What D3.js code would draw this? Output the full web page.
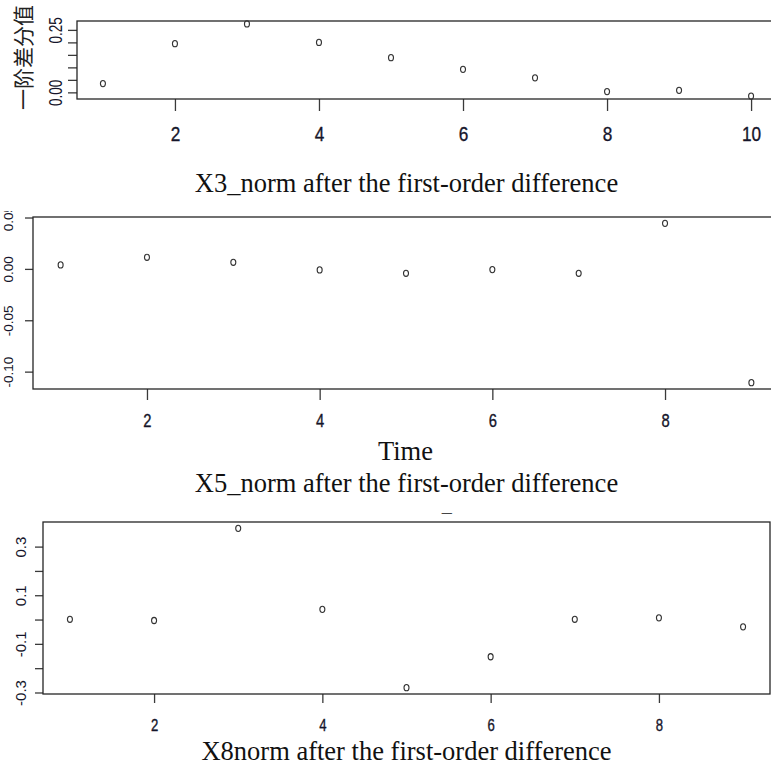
<!DOCTYPE html>
<html>
<head>
<meta charset="utf-8">
<script src="https://cdn.jsdelivr.net/npm/d3@7"></script>
<style>
  html, body { margin: 0; padding: 0; background: #fff; overflow: hidden; }
  svg { display: block; }
</style>
</head>
<body>
<script>
var width = 771, height = 766;

/** data **/
var timeA = [1, 2, 3, 4, 5, 6, 7, 8, 9, 10];
var diffA = [0.035, 0.195, 0.274, 0.200, 0.139, 0.092, 0.058, 0.003, 0.008, -0.015];

var timeB = [1, 2, 3, 4, 5, 6, 7, 8, 9];
var diffB = [0.0039, 0.0113, 0.0064, -0.0010, -0.0043, -0.0007, -0.0043, 0.0443, -0.1107];

var timeC = [1, 2, 3, 4, 5, 6, 7, 8, 9];
var diffC = [0.001, -0.004, 0.375, 0.042, -0.280, -0.153, 0.001, 0.007, -0.030];

var xTicksA = [2, 4, 6, 8, 10];
var xTicksB = [2, 4, 6, 8];
var xTicksC = [2, 4, 6, 8];

var yTicksA = [0, 0.05, 0.10, 0.15, 0.20, 0.25];
var yLabelsA = ["0.00", "", "", "", "", "0.25"];
var yTicksB = [-0.10, -0.05, 0, 0.05];
var yLabelsB = ["-0.10", "-0.05", "0.00", "0.05"];
var yTicksC = [-0.3, -0.2, -0.1, 0, 0.1, 0.2, 0.3];
var yLabelsC = ["-0.3", "", "-0.1", "", "0.1", "", "0.3"];

var captions = [
    "X3_norm after the first-order difference",
    "Time",
    "X5_norm after the first-order difference",
    "X8norm after the first-order difference"
];
var yTitleA = "一阶差分值";

var svg = d3.select("body").append("svg")
    .attr("width", width).attr("height", height);

var ink = "#262626";
var labelInk = "#15152a";

// R style limits: data range padded by 4% each side
function rLimits(v) {
    var e = d3.extent(v), pad = (e[1] - e[0]) * 0.04;
    return [e[0] - pad, e[1] + pad];
}

function panel(p) {
    var g = svg.append("g");
    if (p.clipTop != null) {
        var id = "clip" + p.name;
        svg.append("clipPath").attr("id", id)
            .append("rect").attr("x", 0).attr("y", p.clipTop)
            .attr("width", width).attr("height", height - p.clipTop);
        g.attr("clip-path", "url(#" + id + ")");
    }

    var x = d3.scaleLinear().domain(rLimits(p.t)).range([p.left, p.right]);
    var y = d3.scaleLinear().domain(rLimits(p.v)).range([p.bottom, p.top]);

    // x axis
    var xa = g.append("g")
        .attr("transform", "translate(0," + p.bottom + ")")
        .call(d3.axisBottom(x).tickValues(p.xTicks).tickSize(p.tickX).tickFormat(d3.format("d")));
    xa.select(".domain").remove();
    xa.selectAll("line").attr("stroke", "#3a3a3a").attr("stroke-width", 1.3);
    xa.selectAll("text")
        .attr("y", p.xBase - p.bottom).attr("dy", 0)
        .attr("transform", "scale(0.82,1)")
        .attr("fill", labelInk)
        .attr("stroke", labelInk).attr("stroke-width", 0.35)
        .style("font-family", "'Liberation Sans', Arial, sans-serif")
        .style("font-size", p.xFont + "px");

    // y axis, labels parallel to the axis
    var ya = g.append("g")
        .attr("transform", "translate(" + p.left + ",0)")
        .call(d3.axisLeft(y).tickValues(p.yTicks).tickSize(p.tickY)
            .tickFormat((d, i) => p.yLabels[i]));
    ya.select(".domain").remove();
    ya.selectAll("line").attr("stroke", "#3a3a3a").attr("stroke-width", 1.3);
    ya.selectAll("text")
        .attr("x", 0).attr("y", 0).attr("dy", "0.36em")
        .attr("text-anchor", "middle")
        .attr("transform", "translate(" + (p.yLabelX - p.left) + ",0) rotate(-90) scale(1," + p.yStretch + ")")
        .attr("fill", labelInk)
        .style("font-family", "'Liberation Sans', Arial, sans-serif")
        .style("font-size", p.yFont + "px");

    // box
    g.append("rect")
        .attr("x", p.left).attr("y", p.top)
        .attr("width", p.right - p.left).attr("height", p.bottom - p.top)
        .attr("fill", "none").attr("stroke", ink).attr("stroke-width", 1.3);

    // points
    g.append("g").selectAll("ellipse")
        .data(p.v)
        .enter().append("ellipse")
        .attr("cx", (d, i) => x(p.t[i]))
        .attr("cy", d => y(d))
        .attr("rx", 2.5).attr("ry", 3.1)
        .attr("fill", "none").attr("stroke", "#333").attr("stroke-width", 1.1);
    return g;
}

panel({ name: "A", t: timeA, v: diffA, left: 77, right: 777, top: 21, bottom: 99,
    xTicks: xTicksA, yTicks: yTicksA, yLabels: yLabelsA, tickX: 12, tickY: 9,
    xBase: 141.5, xFont: 21, yLabelX: 55, yFont: 13.5, yStretch: 1.4 });

panel({ name: "B", t: timeB, v: diffB, left: 33, right: 779, top: 217, bottom: 389,
    xTicks: xTicksB, yTicks: yTicksB, yLabels: yLabelsB, tickX: 11, tickY: 8,
    xBase: 426.7, xFont: 18, yLabelX: 8.3, yFont: 13.5, yStretch: 1, clipTop: 211 });

panel({ name: "C", t: timeC, v: diffC, left: 43, right: 770, top: 522, bottom: 694,
    xTicks: xTicksC, yTicks: yTicksC, yLabels: yLabelsC, tickX: 9, tickY: 8,
    xBase: 730.7, xFont: 16, yLabelX: 20.8, yFont: 15, yStretch: 1 });

// Chinese y title of the first panel
svg.append("text")
    .attr("transform", "translate(23,57.5) rotate(-90)")
    .attr("text-anchor", "middle").attr("dy", "0.36em")
    .attr("fill", "#222")
    .style("font-family", "'Noto Sans CJK SC', sans-serif")
    .style("font-size", "21px")
    .text(yTitleA);

// serif captions between panels
var capPos = [[406.5, 191.5], [405.5, 460], [406.5, 491.5], [406.5, 760]];
svg.append("g").selectAll("text")
    .data(captions)
    .enter().append("text")
    .attr("x", (d, i) => capPos[i][0])
    .attr("y", (d, i) => capPos[i][1])
    .attr("text-anchor", "middle")
    .attr("fill", "#111")
    .style("font-family", "'Liberation Serif', 'Times New Roman', serif")
    .style("font-size", "26.5px")
    .text(d => d);

// leftover fragment of a cut-off title
svg.append("text")
    .attr("transform", "translate(446.7,511.8) scale(1.35,1)")
    .attr("text-anchor", "middle").attr("fill", "#111")
    .style("font-family", "'Liberation Serif', 'Times New Roman', serif")
    .style("font-size", "15px")
    .text("_");
</script>
</body>
</html>
